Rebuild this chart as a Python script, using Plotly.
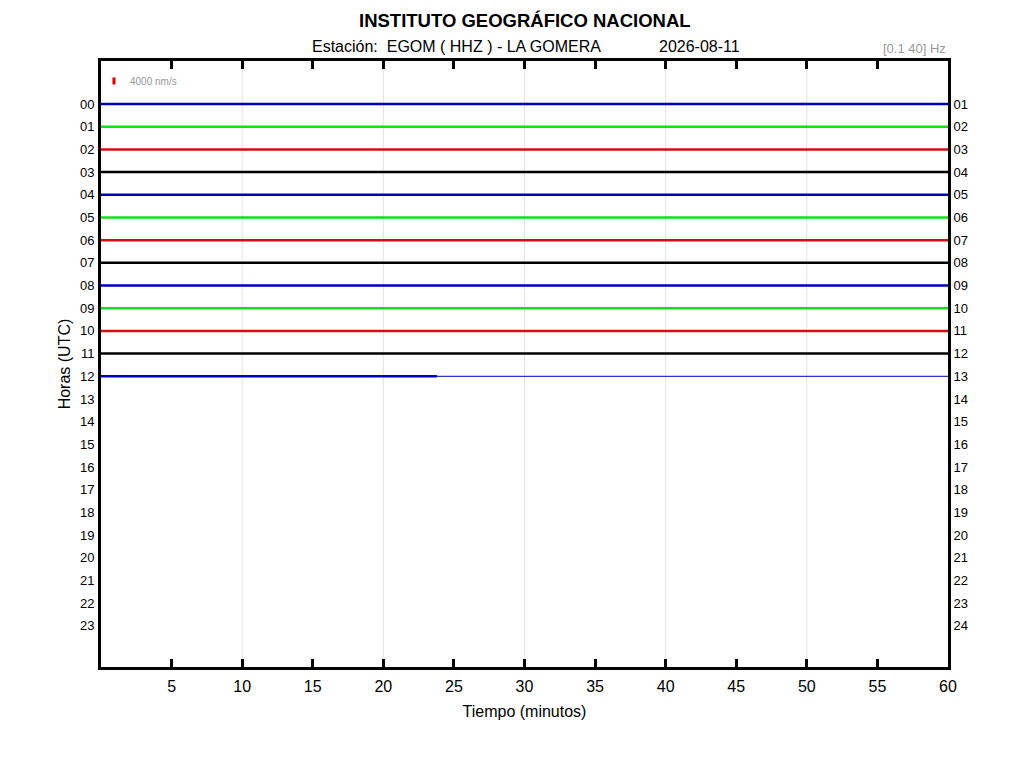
import plotly.graph_objects as go

# helicorder rows (hour offsets) and their trace colours
hours = list(range(13))
trace_colors = ["#0000BB", "#11E011", "#D01010", "#000000"] * 3 + ["#0000BB"]
trace_start = [0] * 13
trace_end = [60] * 12 + [23.8]     # last hour still recording
gap_end = 60                       # flat line after the last sample

left_labels = ["%02d" % h for h in range(24)]
right_labels = ["%02d" % (h + 1) for h in range(24)]
x_ticks = [5, 10, 15, 20, 25, 30, 35, 40, 45, 50, 55, 60]
grid_minutes = [10, 20, 30, 40, 50]

FONT = "Liberation Sans, Arial, sans-serif"

fig = go.Figure()

for h, c, x0, x1 in zip(hours, trace_colors, trace_start, trace_end):
    fig.add_trace(go.Scatter(x=[x0, x1], y=[h, h], mode="lines",
                             line=dict(color=c, width=2.5), showlegend=False,
                             hoverinfo="skip"))

# thin line after end of data in the last row
fig.add_trace(go.Scatter(x=[trace_end[-1], gap_end], y=[hours[-1], hours[-1]],
                         mode="lines", line=dict(color=trace_colors[-1], width=1),
                         showlegend=False, hoverinfo="skip"))

# dummy trace for right-hand axis
fig.add_trace(go.Scatter(x=[0], y=[0], yaxis="y2", mode="markers",
                         marker=dict(opacity=0), showlegend=False, hoverinfo="skip"))

for g in grid_minutes:
    fig.add_vline(x=g, line=dict(color="#e2e2e2", width=1), layer="below")

# amplitude scale bar
fig.add_shape(type="line", x0=0.92, x1=0.92, y0=-1.17, y1=-0.86,
              line=dict(color="#DD0000", width=3))
fig.add_annotation(x=1.9, y=-0.99, text="4000 nm/s", showarrow=False,
                   xanchor="left", font=dict(size=10, color="#999999", family=FONT))

yrange = [24.81, -1.895]

fig.update_layout(
    width=1024, height=768,
    margin=dict(l=92.5, r=83.5, t=53, b=109),
    paper_bgcolor="white", plot_bgcolor="white",
    font=dict(family=FONT, color="black"),
    xaxis=dict(range=[0, 60], tickvals=x_ticks, ticks="inside", ticklen=8,
               tickwidth=3, tickcolor="black", showgrid=False, zeroline=False,
               showline=True, linewidth=3, linecolor="black", mirror="ticks",
               tickfont=dict(size=16), ticklabelstandoff=3,
               title=dict(text="Tiempo (minutos)", font=dict(size=16), standoff=12)),
    yaxis=dict(range=yrange, tickvals=list(range(24)), ticktext=left_labels,
               ticks="outside", ticklen=1, tickcolor="rgba(0,0,0,0)",
               showgrid=False, zeroline=False, showline=True,
               linewidth=3, linecolor="black", mirror=True,
               tickfont=dict(size=13),
               title=dict(text="Horas (UTC)", font=dict(size=16), standoff=6)),
    yaxis2=dict(range=yrange, overlaying="y", side="right",
                tickvals=list(range(24)), ticktext=right_labels,
                ticks="outside", ticklen=2, tickcolor="rgba(0,0,0,0)",
                showgrid=False, zeroline=False, showline=False,
                tickfont=dict(size=13)),
)

fig.add_annotation(xref="paper", yref="paper", x=0.5, y=1.0, yshift=41,
                   yanchor="middle",
                   text="<b>INSTITUTO GEOGRÁFICO NACIONAL</b>", showarrow=False,
                   font=dict(size=18.5))
fig.add_annotation(xref="paper", yref="paper", x=0.2473, y=1.0, yshift=15,
                   yanchor="middle",
                   text="Estación:  EGOM ( HHZ ) - LA GOMERA", showarrow=False,
                   xanchor="left", font=dict(size=16))
fig.add_annotation(xref="paper", yref="paper", x=0.656, y=1.0, yshift=15,
                   yanchor="middle",
                   text="2026-08-11", showarrow=False, xanchor="left",
                   font=dict(size=16))
fig.add_annotation(xref="paper", yref="paper", x=1.0, y=1.0, yshift=13,
                   yanchor="middle",
                   text="[0.1 40] Hz", showarrow=False, xanchor="right",
                   font=dict(size=13, color="#999999"))

fig.write_html("out.html")
